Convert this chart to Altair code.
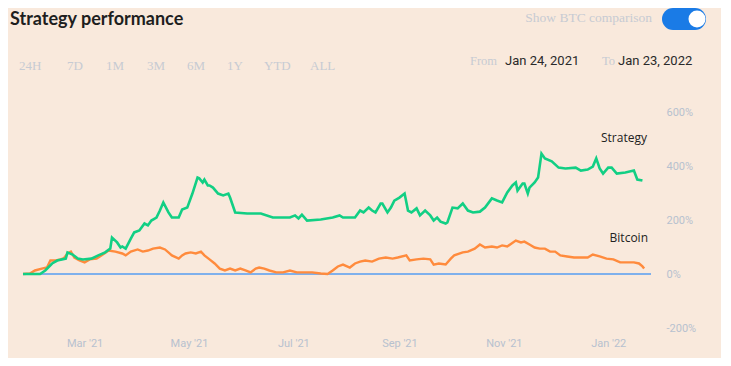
import altair as alt
import pandas as pd

START = "2021-01-24"
END = "2022-01-26"

# Strategy performance (%), day offsets from Jan 24, 2021
strat_day = [0, 10, 13, 17, 20, 25, 26, 29, 32, 35, 40, 44, 48, 51, 52, 55, 57, 58, 60, 63, 65, 68,
             71, 73, 75, 78, 80, 82, 85, 87, 91, 93, 96, 99, 102, 103, 105, 106, 108, 109, 111, 114,
             117, 120, 121, 124, 131, 139, 146, 156, 159, 161, 163, 166, 174, 181, 185, 187, 191,
             194, 197, 199, 202, 204, 206, 209, 210, 213, 215, 217, 220, 223, 225, 227, 230, 232,
             235, 238, 240, 242, 244, 247, 248, 251, 254, 257, 260, 263, 267, 270, 274, 277, 280,
             283, 286, 288, 289, 292, 293, 295, 296, 299, 301, 303, 305, 309, 313, 317, 323, 326,
             330, 333, 335, 337, 339, 342, 344, 347, 352, 357, 359, 362]
strat_pct = [0, 0, 13, 39, 50, 57, 80, 72, 57, 54, 57, 69, 80, 94, 135, 117, 98, 102, 94, 131, 154,
             161, 187, 180, 198, 209, 235, 265, 228, 209, 209, 239, 246, 298, 357, 354, 339, 350,
             328, 328, 320, 298, 291, 298, 283, 228, 224, 224, 209, 209, 217, 206, 220, 198, 202,
             209, 217, 209, 209, 209, 235, 228, 246, 235, 228, 261, 261, 228, 246, 272, 283, 298,
             235, 228, 243, 217, 235, 217, 198, 209, 194, 187, 191, 246, 243, 261, 235, 228, 231,
             246, 280, 272, 265, 302, 328, 339, 309, 335, 335, 298, 320, 339, 357, 446, 428, 417,
             394, 391, 394, 383, 387, 398, 428, 391, 372, 394, 394, 372, 376, 383, 350, 346]

# Bitcoin performance (%)
btc_day = [0, 4, 7, 11, 14, 16, 19, 22, 24, 26, 28, 30, 33, 36, 39, 43, 46, 50, 54, 58, 60, 63, 67,
           70, 73, 76, 80, 83, 87, 91, 93, 95, 98, 101, 104, 106, 109, 112, 115, 118, 121, 124, 127,
           130, 133, 136, 138, 141, 144, 148, 152, 156, 160, 165, 169, 174, 178, 181, 184, 187, 191,
           194, 197, 200, 204, 208, 212, 216, 219, 224, 226, 230, 234, 238, 240, 243, 247, 250, 252,
           257, 260, 264, 267, 270, 274, 277, 280, 283, 288, 291, 293, 296, 299, 302, 305, 308, 311,
           314, 318, 322, 326, 330, 333, 337, 341, 345, 349, 353, 357, 360, 362, 363]
btc_pct = [0, 2, 13, 20, 24, 50, 50, 54, 59, 76, 83, 61, 50, 43, 54, 57, 69, 87, 83, 76, 69, 83, 91,
           83, 87, 94, 98, 91, 69, 57, 69, 76, 80, 76, 83, 69, 54, 39, 20, 13, 20, 13, 20, 13, 6, 20,
           24, 20, 13, 6, 6, 13, 6, 6, 6, 2, 0, 13, 28, 35, 24, 39, 46, 50, 46, 57, 61, 57, 61, 69,
           50, 54, 57, 54, 35, 39, 35, 57, 69, 80, 83, 94, 109, 98, 102, 98, 106, 102, 124, 117, 120,
           109, 98, 94, 94, 83, 83, 69, 65, 61, 61, 61, 72, 65, 57, 54, 43, 43, 43, 39, 28, 20]

base_day = [0, 367]
base_pct = [0, 0]

y_ticks = [-200, 0, 200, 400, 600]
month_ticks = [(2021, 3), (2021, 5), (2021, 7), (2021, 9), (2021, 11), (2022, 1)]
range_labels = ["24H", "7D", "1M", "3M", "6M", "1Y", "YTD", "ALL"]


def to_dates(days):
    d = pd.Timestamp(START) + pd.to_timedelta(days, unit="D")
    return d.strftime("%Y-%m-%dT%H:%M:%S")


df = pd.concat([
    pd.DataFrame({"date": to_dates(base_day), "pct": base_pct, "series": "Base"}),
    pd.DataFrame({"date": to_dates(btc_day), "pct": btc_pct, "series": "Bitcoin"}),
    pd.DataFrame({"date": to_dates(strat_day), "pct": strat_pct, "series": "Strategy"}),
])

BG = "#f9e9dc"
LIGHT = "#c7cbd3"
AXIS = "#b7c1cf"

x_enc = alt.X(
    "date:T",
    scale=alt.Scale(domain=[START + "T00:00:00", END + "T00:00:00"]),
    axis=alt.Axis(
        values=[alt.DateTime(year=y, month=m, date=1) for y, m in month_ticks],
        format="%b '%y", title=None, grid=False, domain=False, ticks=False,
        labelColor=AXIS, labelFont="Roboto", labelFontSize=11, labelPadding=9,
        labelBaseline="top",
    ),
)
y_enc = alt.Y(
    "pct:Q",
    scale=alt.Scale(domain=[-200, 600], nice=False, zero=False),
    axis=alt.Axis(
        orient="right", values=y_ticks, labelExpr="datum.value + '%'", title=None,
        grid=False, domain=False, ticks=False, labelColor=AXIS, labelFont="Roboto",
        labelFontSize=11, labelPadding=15, labelAlign="left",
    ),
)

colors = {"Base": "#7fb0ec", "Bitcoin": "#ff8b3d", "Strategy": "#12cf84"}
widths = {"Base": 2, "Bitcoin": 2.4, "Strategy": 2.6}

lines = []
for s in ["Base", "Bitcoin", "Strategy"]:
    lines.append(
        alt.Chart(df).transform_filter(alt.datum.series == s)
        .mark_line(color=colors[s], strokeWidth=widths[s], interpolate="linear")
        .encode(x=x_enc, y=y_enc)
    )

one = pd.DataFrame({"a": [0]})


def txt(text, x, y, size=12, color="#222", weight="normal", align="left", font="Lato",
        baseline="middle"):
    return alt.Chart(one).mark_text(
        text=text, fontSize=size, color=color, fontWeight=weight, align=align, font=font,
        baseline=baseline,
    ).encode(x=alt.value(x), y=alt.value(y))


texts = [
    txt("Strategy performance", -13, -87, size=18, color="#1e1e1e", weight="bold",
        baseline="alphabetic"),
    txt("Show BTC comparison", 629, -94, size=13.5, color=LIGHT, align="right",
        font="Liberation Serif"),
    txt("From", 447, -51, size=12.5, color=LIGHT, font="Liberation Serif"),
    txt("Jan 24, 2021", 482, -51, size=13, color="#2a2a2a", font="Roboto"),
    txt("To", 579, -51, size=12.5, color=LIGHT, font="Liberation Serif"),
    txt("Jan 23, 2022", 595, -51, size=13, color="#2a2a2a", font="Roboto"),
    txt("Strategy", 624, 26, size=12, color="#222", align="right", font="Open Sans"),
    txt("Bitcoin", 625, 126, size=12, color="#222", align="right", font="Open Sans"),
]
range_x = [-4, 44, 83, 124, 164, 204, 241, 287]
for lab, xx in zip(range_labels, range_x):
    texts.append(txt(lab, xx, -46, size=13, color=LIGHT, font="Liberation Serif"))

toggle = alt.Chart(one).mark_rule(color="#1a7be6", strokeWidth=22, strokeCap="round").encode(
    x=alt.value(650), x2=alt.value(672), y=alt.value(-93))
knob = alt.Chart(one).mark_point(filled=True, color="white", opacity=1, size=290,
                                 shape="circle").encode(x=alt.value(674), y=alt.value(-93))

chart = alt.layer(*lines, *texts, toggle, knob).properties(
    width=628, height=216,
    autosize=alt.AutoSizeParams(type="none"),
    padding={"left": 15, "top": 104, "right": 70, "bottom": 30},
    background=BG,
).configure_view(stroke=None)

chart.save("out.html", embed_options={"renderer": "svg", "actions": False})
